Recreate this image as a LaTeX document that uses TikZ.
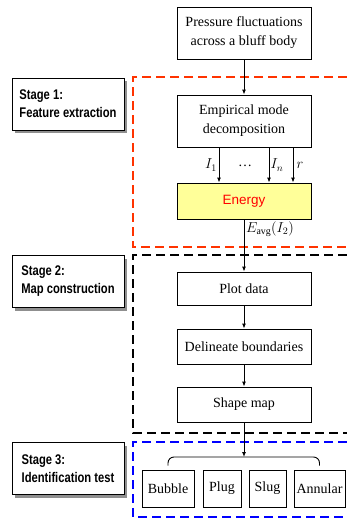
\documentclass[tikz,border=0pt]{standalone}
\usepackage{fontspec}
\setmainfont{Liberation Serif}
\newfontfamily\stagefont[FakeStretch=0.8]{Liberation Sans}
\newfontfamily\energyfont{Liberation Sans}
\usetikzlibrary{arrows.meta,shadows}

\definecolor{zonered}{RGB}{255,51,0}
\definecolor{zoneblue}{RGB}{0,0,255}
\definecolor{energyfill}{RGB}{255,255,153}

\tikzset{
  every node/.style={inner sep=0pt},
  box/.style={draw,line width=0.9pt,fill=white,minimum width=134pt,align=center,
    font=\fontsize{14}{19}\selectfont},
  stage/.style={draw,line width=0.9pt,fill=white,minimum width=112pt,minimum height=52pt,
    align=left,font=\stagefont\bfseries\fontsize{14}{18}\selectfont,
    drop shadow={shadow xshift=3pt,shadow yshift=-3pt,fill=black!55,opacity=0.8}},
  regime/.style={draw,line width=0.9pt,minimum height=37pt,font=\fontsize{14}{16}\selectfont},
  lbl/.style={font=\fontsize{14}{16}\selectfont},
  arr/.style={-{Latex[length=5pt,width=4pt]},line width=0.9pt},
  zone/.style={line width=1.6pt,dash pattern=on 9pt off 5pt}
}

\begin{document}
\begin{tikzpicture}[x=1pt,y=-1pt]
  \useasboundingbox (0,0) rectangle (347,519);

  % stage zones
  \draw [zone,zonered] (347,77) -- (133,77) -- (133,247) -- (347,247);
  \draw [zone,black] (347,255) -- (133,255) -- (133,433) -- (347,433);
  \draw [zone,zoneblue] (347,442) -- (133,442) -- (133,517) -- (347,517);

  % stage labels
  \node [stage] (s1) at (68,104) {Stage 1:\\Feature extraction};
  \node [stage] (s2) at (68,281.5) {Stage 2:\\Map construction};
  \node [stage] (s3) at (68,468.5) {Stage 3:\\Identification test};

  % main chain
  \node [box,minimum height=52pt] (press) at (244,33) {Pressure fluctuations\\across a bluff body};
  \node [box,minimum height=52pt] (emd) at (244,121) {Empirical mode\\decomposition};
  \node [box,minimum height=36pt,fill=energyfill,
    font=\energyfont\fontsize{13.5}{16}\selectfont,text=red] (energy) at (244,201) {Energy};
  \node [box,minimum height=33pt] (plot) at (244,288.5) {Plot data};
  \node [box,minimum height=35pt] (delin) at (244,346.5) {Delineate boundaries};
  \node [box,minimum height=35pt] (smap) at (244,404.5) {Shape map};

  % flow regimes
  \node [regime,minimum width=52pt] (bubble) at (168,488.5) {Bubble};
  \node [regime,minimum width=38pt] (plug) at (222,488.5) {Plug};
  \node [regime,minimum width=37pt] (slug) at (267.5,488.5) {Slug};
  \node [regime,minimum width=51pt] (annular) at (319.5,488.5) {Annular};
  \coordinate (brace) at (244,457);

  \foreach \from/\to in {press/emd,energy/plot,plot/delin,delin/smap,smap/brace}
    \draw [arr] (\from) -- (\to);
  \foreach \dx in {-25,25,49}
    \draw [arr] ([xshift=\dx pt]emd.south) -- ([xshift=\dx pt]energy.north);
  \draw [line width=0.9pt,rounded corners=6pt]
    ([yshift=4pt]bubble.north) |- (brace) -| ([yshift=4pt]annular.north);

  % mode labels
  \node [lbl] (i1) at (211,165) {$I_1$};
  \node [lbl] (dots) at (245,166) {\dots};
  \node [lbl] (in) at (277,165) {$I_n$};
  \node [lbl] (res) at (300,165) {$r$};
  \node [lbl] (eavg) at (270,229) {$E_{\mathrm{avg}}(I_2)$};
\end{tikzpicture}
\end{document}
